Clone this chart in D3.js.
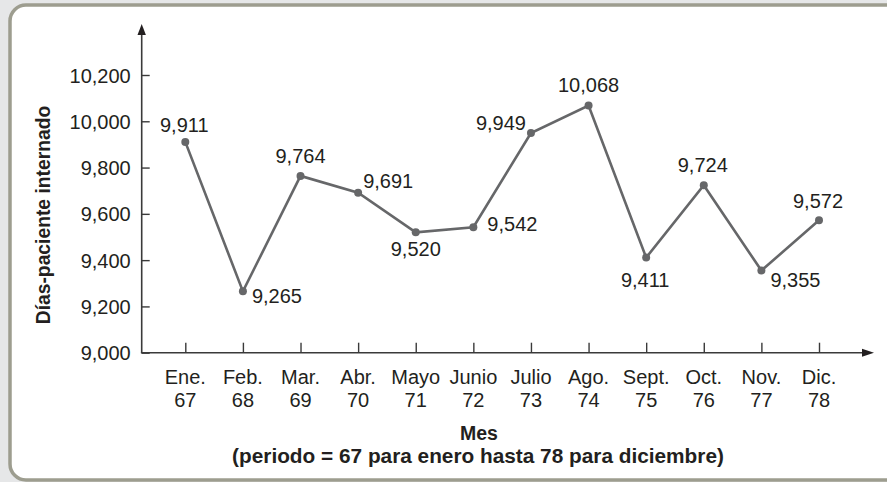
<!DOCTYPE html>
<html>
<head>
<meta charset="utf-8">
<script src="https://cdn.jsdelivr.net/npm/d3@7/dist/d3.min.js"></script>
<style>
  html, body { margin: 0; padding: 0; background: #e6e7e8; }
  svg { display: block; }
  text { font-family: "Liberation Sans", Arial, Helvetica, sans-serif; fill: #231f20; }
</style>
</head>
<body>
<svg id="chart" width="887" height="482"></svg>
<script>
// Monthly inpatient-days series, periods 67 (January) to 78 (December)
const months = ["Ene.", "Feb.", "Mar.", "Abr.", "Mayo", "Junio", "Julio", "Ago.", "Sept.", "Oct.", "Nov.", "Dic."];
const periods = [67, 68, 69, 70, 71, 72, 73, 74, 75, 76, 77, 78];
const patientDays = [9911, 9265, 9764, 9691, 9520, 9542, 9949, 10068, 9411, 9724, 9355, 9572];
const yTicks = [9000, 9200, 9400, 9600, 9800, 10000, 10200];

// Where each value label sits around its point: [dx, dy, anchor]
const labelPlacement = [
  [-1, -10, "middle"], [9, 11.6, "start"], [0, -12.6, "middle"], [5, -4.5, "start"],
  [0, 23.6, "middle"], [14, 3.4, "start"], [-5, -3, "end"], [0, -13.3, "middle"],
  [-1, 29.7, "middle"], [-1, -12.9, "middle"], [9, 16, "start"], [-1, -12, "middle"]
];

const svg = d3.select("#chart");
const fmt = d3.format(",");
const ink = "#666769";

// Panel
svg.append("rect")
  .attr("x", 10).attr("y", 5).attr("width", 900).attr("height", 475)
  .attr("rx", 16).attr("ry", 16)
  .attr("fill", "#ffffff").attr("stroke", "#9d9d8f").attr("stroke-width", 3.5);

const x = d3.scalePoint().domain(d3.range(months.length)).range([185.3, 819]);
const y = d3.scaleLinear().domain([9000, 10200]).range([352.7, 75]);
const x0 = 141.7, y0 = y(9000);

// Axes lines with arrowheads
svg.append("line").attr("x1", x0).attr("x2", x0).attr("y1", y0).attr("y2", 32)
  .attr("stroke", "#3a3a3a").attr("stroke-width", 1.6);
svg.append("path").attr("d", `M${x0},24 L${x0 - 4.2},35 L${x0 + 4.2},35 Z`).attr("fill", "#231f20");
svg.append("line").attr("x1", x0 - 0.8).attr("x2", 866).attr("y1", y0).attr("y2", y0)
  .attr("stroke", "#3a3a3a").attr("stroke-width", 1.6);
svg.append("path").attr("d", `M874,${y0} L862,${y0 - 4} L862,${y0 + 4} Z`).attr("fill", "#231f20");

// Y axis ticks and labels
const yAxis = d3.axisRight(y).tickValues(yTicks).tickSize(8).tickFormat(fmt);
const gy = svg.append("g").attr("transform", `translate(${x0},0)`).call(yAxis);
gy.select(".domain").remove();
gy.selectAll(".tick line").attr("stroke", "#3a3a3a").attr("stroke-width", 1.4);
gy.selectAll(".tick text")
  .attr("x", -11).attr("text-anchor", "end").attr("dy", "0.35em")
  .style("font-size", "20px").attr("fill", "#231f20")
  .style("font-family", '"Liberation Sans", Arial, sans-serif');

// X axis ticks (pointing up) and two-line labels
const xAxis = d3.axisTop(x).tickSize(10).tickFormat("");
const gx = svg.append("g").attr("transform", `translate(0,${y0})`).call(xAxis);
gx.select(".domain").remove();
gx.selectAll(".tick line").attr("stroke", "#3a3a3a").attr("stroke-width", 1.4);

const xl = svg.append("g");
xl.selectAll("text.month").data(months).join("text")
  .attr("class", "month")
  .attr("x", (d, i) => x(i)).attr("y", 384)
  .attr("text-anchor", "middle").style("font-size", "20px")
  .text(d => d);
xl.selectAll("text.period").data(periods).join("text")
  .attr("class", "period")
  .attr("x", (d, i) => x(i)).attr("y", 406.5)
  .attr("text-anchor", "middle").style("font-size", "20px")
  .text(d => d);

// Axis titles
svg.append("text").attr("x", 479).attr("y", 439.5)
  .attr("text-anchor", "middle").style("font-size", "19.5px").style("font-weight", "bold")
  .text("Mes");
svg.append("text").attr("x", 478).attr("y", 463)
  .attr("text-anchor", "middle").style("font-size", "20.8px").style("font-weight", "bold")
  .text("(periodo = 67 para enero hasta 78 para diciembre)");
svg.append("text")
  .attr("transform", "translate(50,215) rotate(-90)")
  .attr("text-anchor", "middle").style("font-size", "19.3px").style("font-weight", "bold")
  .text("Días-paciente internado");

// Series line and points
const line = d3.line().x((d, i) => x(i)).y(d => y(d));
svg.append("path").datum(patientDays)
  .attr("d", line).attr("fill", "none")
  .attr("stroke", ink).attr("stroke-width", 2.6).attr("stroke-linejoin", "miter");
svg.selectAll("circle.pt").data(patientDays).join("circle")
  .attr("class", "pt")
  .attr("cx", (d, i) => x(i)).attr("cy", d => y(d)).attr("r", 4)
  .attr("fill", ink);

// Value labels
svg.selectAll("text.val").data(patientDays).join("text")
  .attr("class", "val")
  .attr("x", (d, i) => x(i) + labelPlacement[i][0])
  .attr("y", (d, i) => y(d) + labelPlacement[i][1])
  .attr("text-anchor", (d, i) => labelPlacement[i][2])
  .style("font-size", "20px")
  .text(d => fmt(d));
</script>
</body>
</html>
